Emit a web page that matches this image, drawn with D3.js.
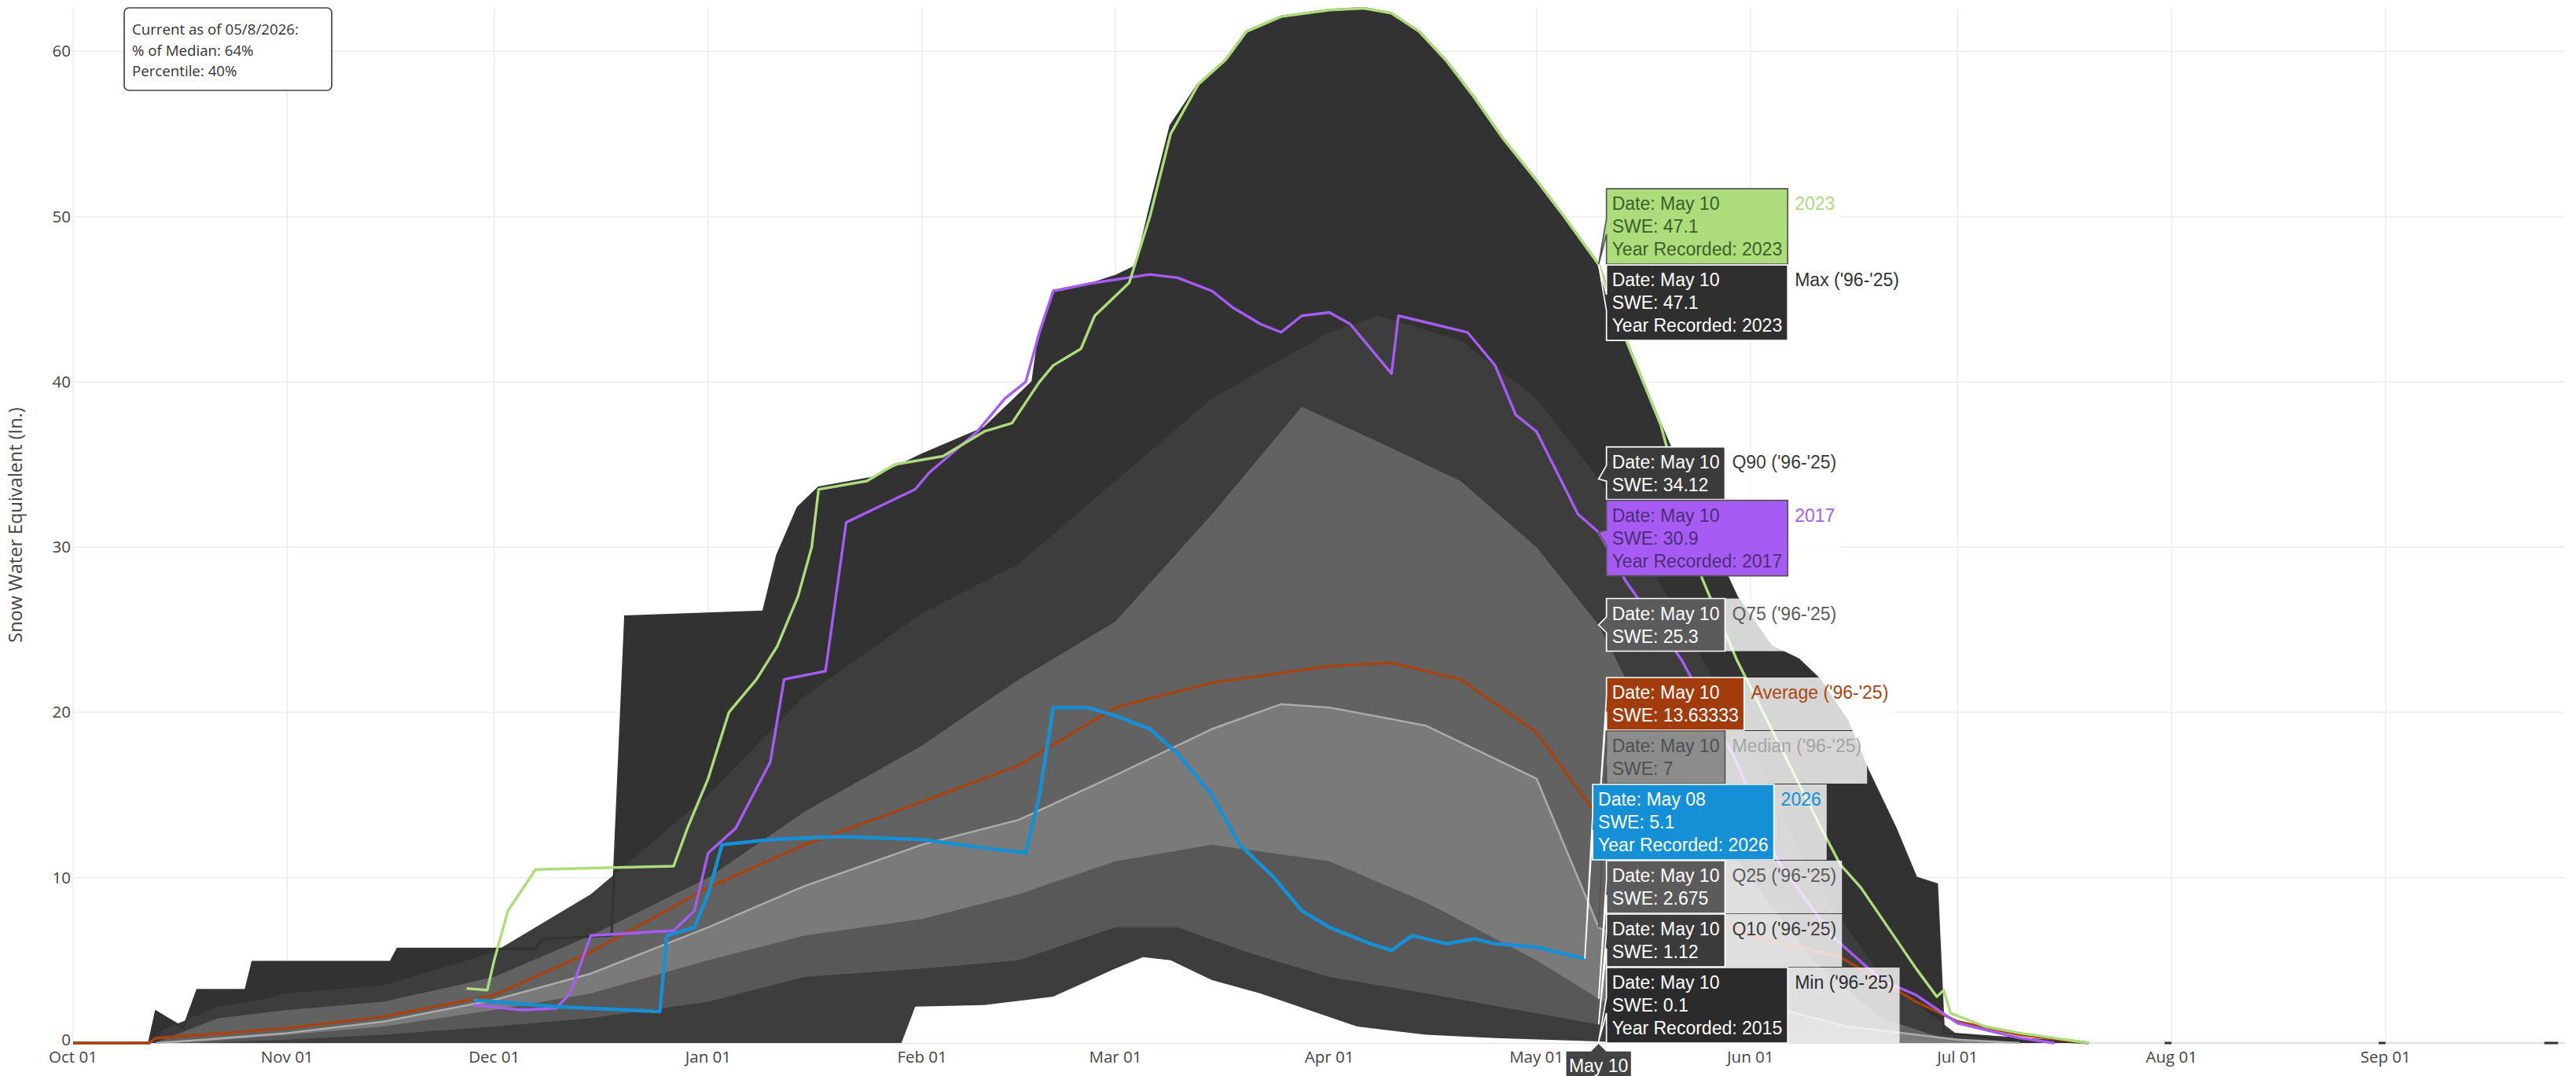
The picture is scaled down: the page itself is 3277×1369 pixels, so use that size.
<!DOCTYPE html>
<html><head><meta charset="utf-8">
<script src="https://cdn.jsdelivr.net/npm/d3@7"></script>
<style>html,body{margin:0;padding:0;background:#fff}svg{display:block}</style>
</head><body>
<svg id="chart" width="3277" height="1369"></svg>
<script>
// ---------------- DATA ----------------
const xTickDates  = ["10-01","11-01","12-01","01-01","02-01","03-01","04-01","05-01","06-01","07-01","08-01","09-01"];
const xTickLabels = ["Oct 01","Nov 01","Dec 01","Jan 01","Feb 01","Mar 01","Apr 01","May 01","Jun 01","Jul 01","Aug 01","Sep 01"];
const yTicks = [0,10,20,30,40,50,60];

const maxSWE = [["10-01",0],["10-12",0],["10-13",1.9],["10-17",0.9],["10-19",3.2],["10-26",3.2],["10-27",4.9],["11-16",4.9],["11-17",5.7],["12-07",5.7],["12-08",6.3],["12-18",6.5],["12-20",25.8],["01-09",26.1],["01-11",29.5],["01-14",32.4],["01-17",33.6],["01-25",34.2],["02-01",35.6],["02-10",37.2],["02-17",40],["02-18",43],["02-20",45.5],["02-26",46],["03-01",46.4],["03-04",47],["03-06",50.5],["03-09",55.5],["03-13",58],["03-17",59.5],["03-20",61.2],["03-25",62.1],["04-01",62.5],["04-06",62.6],["04-10",62.3],["04-14",61.2],["04-18",59.4],["04-22",57.2],["04-26",54.8],["05-01",52.2],["05-05",50],["05-10",47.1],["05-14",42.5],["05-19",37.4],["05-25",31.5],["05-30",27],["06-04",24],["06-08",23.2],["06-11",22],["06-15",19.5],["06-18",16.5],["06-22",13],["06-25",10],["06-28",9.6],["06-29",0.6],["07-05",0.4],["07-12",0.2],["07-20",0],["07-21",null],["07-31",0],["08-01",0],["08-02",null],["08-31",0],["09-01",0],["09-02",null],["09-24",0],["09-26",0]];
const q90SWE = [["10-13",0],["10-14",0.8],["10-22",2.2],["10-28",2.6],["11-01",3],["11-15",3.5],["12-01",5.5],["12-15",9],["01-01",15],["01-15",21],["02-01",26],["02-15",29],["03-01",34],["03-15",39],["04-01",43],["04-08",44],["04-20",42.5],["05-01",39],["05-10",34.12],["05-20",27],["06-01",18],["06-10",10],["06-20",4],["07-01",0.5],["07-10",0]];
const q75SWE = [["10-13",0],["10-14",0.2],["10-22",1.5],["11-01",2],["11-15",2.5],["12-01",4],["12-15",6.5],["01-01",10],["01-15",14],["02-01",18],["02-15",22],["03-01",25.5],["03-15",32],["03-28",38.5],["04-10",36],["04-20",34],["05-01",30],["05-10",25.3],["05-20",17],["06-01",10],["06-10",5],["06-20",1.5],["07-01",0]];
const medianSWE = [["10-13",0],["10-20",0.2],["11-01",0.6],["11-15",1.3],["12-01",2.6],["12-15",4.2],["01-01",7],["01-15",9.5],["02-01",12],["02-15",13.5],["03-01",16.2],["03-15",19],["03-25",20.5],["04-01",20.3],["04-15",19.2],["05-01",16],["05-05",12],["05-10",7],["05-20",4.5],["06-01",2.5],["06-15",1],["07-01",0.2],["07-10",0]];
const q25SWE = [["10-13",0],["10-20",0.1],["11-01",0.5],["11-15",1],["12-01",2],["12-15",3],["01-01",5],["01-15",6.5],["02-01",7.5],["02-15",9],["03-01",11],["03-15",12],["04-01",11],["04-15",8.5],["05-01",5],["05-10",2.675],["05-20",0.8],["06-01",0]];
const q10SWE = [["10-13",0],["10-20",0],["11-01",0.2],["11-15",0.5],["12-01",1],["12-15",1.5],["01-01",2.5],["01-15",4],["02-01",4.5],["02-15",5],["03-01",7],["03-10",7],["03-20",5.5],["04-01",4],["04-15",3],["05-01",1.8],["05-10",1.12],["05-20",0.3],["05-31",0]];
const minSWE = [["10-01",0],["01-29",0],["01-31",2.2],["02-10",2.3],["02-20",2.8],["03-01",4.5],["03-05",5.2],["03-09",5],["03-15",3.8],["03-22",3],["03-29",2],["04-05",1],["04-15",0.5],["04-25",0.3],["05-10",0.1],["05-15",0]];
const avgSWE = [["10-01",0],["10-12",0],["10-13",0.3],["10-20",0.5],["11-01",0.9],["11-15",1.6],["12-01",2.9],["12-15",5.5],["01-01",9.4],["01-15",12],["02-01",14.6],["02-15",16.8],["03-01",20.3],["03-15",21.8],["04-01",22.8],["04-10",23],["04-20",22],["05-01",18.8],["05-10",13.63],["05-20",9.5],["06-01",6.5],["06-14",5.2],["06-25",2.5],["07-01",1.3],["07-10",0.5],["07-20",0]];
const swe2017 = [["11-28",2.3],["12-05",2.0],["12-10",2.1],["12-12",3.0],["12-15",6.5],["12-27",6.8],["12-30",8],["01-01",11.5],["01-05",13],["01-10",17],["01-12",22],["01-18",22.5],["01-21",31.5],["01-26",32.5],["01-31",33.5],["02-02",34.5],["02-09",37],["02-13",39],["02-16",40],["02-18",43],["02-20",45.5],["02-26",46],["03-06",46.5],["03-10",46.3],["03-15",45.5],["03-18",44.5],["03-22",43.5],["03-25",43],["03-28",44],["04-01",44.2],["04-04",43.5],["04-08",41.5],["04-10",40.5],["04-11",44],["04-16",43.5],["04-21",43],["04-25",41],["04-28",38],["05-01",37],["05-07",32],["05-10",30.9],["05-14",27.9],["05-22",23.2],["05-30",17],["06-05",11],["06-13",6.4],["06-20",3.8],["06-25",2.9],["07-01",1.2],["07-10",0.3],["07-15",0]];
const swe2023 = [["11-27",3.3],["11-30",3.2],["12-01",5],["12-03",8],["12-07",10.5],["12-27",10.7],["12-29",13],["01-01",16],["01-04",20],["01-08",22],["01-11",24],["01-14",27],["01-16",30],["01-17",33.5],["01-24",34],["01-28",35],["02-04",35.5],["02-10",37],["02-14",37.5],["02-18",40],["02-20",41],["02-24",42],["02-26",44],["03-03",46],["03-06",50],["03-09",55],["03-13",58],["03-17",59.5],["03-20",61.2],["03-25",62.1],["04-01",62.5],["04-06",62.6],["04-10",62.3],["04-14",61.2],["04-18",59.4],["04-22",57.2],["04-26",54.8],["05-01",52.2],["05-05",50],["05-10",47.1],["05-14",42.5],["05-19",37.4],["05-25",28.1],["05-30",23.2],["06-11",13.2],["06-14",10.8],["06-17",9.4],["06-25",4.5],["06-28",2.8],["06-29",3.2],["06-30",1.8],["07-05",1],["07-10",0.6],["07-15",0.3],["07-20",0]];
const swe2026 = [["11-28",2.6],["12-01",2.5],["12-10",2.2],["12-20",2.0],["12-25",1.9],["12-26",6.5],["12-30",7],["01-01",9],["01-03",12],["01-10",12.3],["01-20",12.5],["02-01",12.3],["02-10",11.8],["02-16",11.5],["02-18",15],["02-20",20.3],["02-25",20.3],["03-01",19.8],["03-06",19],["03-10",17.5],["03-15",15],["03-19",12],["03-24",10],["03-28",8],["04-01",7],["04-07",6],["04-10",5.6],["04-13",6.5],["04-18",6],["04-22",6.3],["04-25",6],["05-01",5.8],["05-05",5.4],["05-08",5.1]];

// hover readout (name, date, SWE, year recorded)
const hoverNames  = ["2023","Max ('96-'25)","Q90 ('96-'25)","2017","Q75 ('96-'25)","Average ('96-'25)","Median ('96-'25)","2026","Q25 ('96-'25)","Q10 ('96-'25)","Min ('96-'25)"];
const hoverDates  = ["05-10","05-10","05-10","05-10","05-10","05-10","05-10","05-08","05-10","05-10","05-10"];
const hoverLabelsDate = ["May 10","May 10","May 10","May 10","May 10","May 10","May 10","May 08","May 10","May 10","May 10"];
const hoverSWE    = [47.1,47.1,34.12,30.9,25.3,13.63333,7,5.1,2.675,1.12,0.1];
const hoverYear   = [2023,2023,null,2017,null,null,null,2026,null,null,2015];
const annotationLines = ["Current as of 05/8/2026:","% of Median: 64%","Percentile: 40%"];

// ---------------- STYLE ----------------
const traceStyle = {
  "2023":            {bg:"#acdc7b", fg:"#3d5f2a", border:"#555", name:"#acdc7b"},
  "Max ('96-'25)":   {bg:"#2f2f2f", fg:"#fff", border:"#fff", name:"#333"},
  "Q90 ('96-'25)":   {bg:"#3b3b3b", fg:"#fff", border:"#fff", name:"#3b3b3b"},
  "2017":            {bg:"#a65cf2", fg:"#4e2c78", border:"#555", name:"#a65cf2"},
  "Q75 ('96-'25)":   {bg:"#5b5b5b", fg:"#fff", border:"#fff", name:"#5b5b5b"},
  "Average ('96-'25)":{bg:"#a23c0c", fg:"#fff", border:"#fff", name:"#a8470f"},
  "Median ('96-'25)":{bg:"#8c8c8c", fg:"#505050", border:"#555", name:"#a5a5a5"},
  "2026":            {bg:"#1590d6", fg:"#fff", border:"#fff", name:"#1590d6"},
  "Q25 ('96-'25)":   {bg:"#5b5b5b", fg:"#fff", border:"#fff", name:"#5b5b5b"},
  "Q10 ('96-'25)":   {bg:"#3b3b3b", fg:"#fff", border:"#fff", name:"#3b3b3b"},
  "Min ('96-'25)":   {bg:"#2b2b2b", fg:"#fff", border:"#fff", name:"#2b2b2b"}
};

// ---------------- SCALES ----------------
const svg = d3.select("#chart");
const PL = 93, PR = 3263, PT = 10, PB = 1327;
const parseD = s => { const [m,d] = s.split("-").map(Number); return new Date(Date.UTC(m >= 10 ? 2025 : 2026, m-1, d)); };
const x = d3.scaleUtc().domain([parseD("10-01"), parseD("09-27")]).range([PL, PR]);
const y = d3.scaleLinear().domain([0, 62.63]).range([PB, PT]);

svg.append("defs").append("clipPath").attr("id","plotclip").append("rect")
  .attr("x",PL).attr("y",PT-2).attr("width",PR-PL).attr("height",PB-PT+4);

// grid
const grid = svg.append("g");
grid.selectAll("line.v").data(xTickDates).join("line")
  .attr("x1",d=>x(parseD(d))).attr("x2",d=>x(parseD(d))).attr("y1",PT).attr("y2",PB)
  .attr("stroke","#eeeeee").attr("stroke-width",1.7);
grid.selectAll("line.h").data(yTicks.filter(v=>v>0)).join("line")
  .attr("x1",PL).attr("x2",PR).attr("y1",d=>y(d)).attr("y2",d=>y(d))
  .attr("stroke","#eeeeee").attr("stroke-width",1.7);
grid.append("line").attr("x1",PL).attr("x2",PR).attr("y1",y(0)).attr("y2",y(0))
  .attr("stroke","#e2e2e2").attr("stroke-width",2.5);

const plot = svg.append("g").attr("clip-path","url(#plotclip)");
const def = d => d[1] != null;
const area = d3.area().defined(def).x(d=>x(parseD(d[0]))).y0(y(0)).y1(d=>y(d[1]));
const line = d3.line().defined(def).x(d=>x(parseD(d[0]))).y(d=>y(d[1]));

// bands painted from the outside in (each band takes the colour of its upper trace)
const bands = [[maxSWE,"#323232"],[q90SWE,"#3d3d3d"],[q75SWE,"#626262"],[medianSWE,"#7a7a7a"],[q25SWE,"#585858"],[q10SWE,"#3d3d3d"],[minSWE,"#ffffff"]];
bands.forEach(([s,c]) => plot.append("path").attr("d",area(s)).attr("fill",c));
plot.append("path").attr("d",line(maxSWE)).attr("fill","none").attr("stroke","#333").attr("stroke-width",3);

const lines = [[medianSWE,"#ababab",2.5],[avgSWE,"#a8420e",3.4],[swe2017,"#a65cf2",3.4],[swe2023,"#acdc7b",3.4],[swe2026,"#1590d6",4.5]];
lines.forEach(([s,c,w]) => plot.append("path").attr("d",line(s)).attr("fill","none")
  .attr("stroke",c).attr("stroke-width",w).attr("stroke-linejoin","round"));

// ---------------- AXES TEXT ----------------
const tickFont = "'Open Sans', sans-serif";
svg.append("g").selectAll("text").data(xTickDates).join("text")
  .attr("x",d=>x(parseD(d))).attr("y",1352).attr("text-anchor","middle")
  .attr("font-family",tickFont).attr("font-size",20.5).attr("fill","#444")
  .text((d,i)=>xTickLabels[i]);
svg.append("g").selectAll("text").data(yTicks).join("text")
  .attr("x",90).attr("y",d=>y(d)+(d===0?3:7)).attr("text-anchor","end")
  .attr("font-family",tickFont).attr("font-size",20.5).attr("fill","#444")
  .text(d=>d);
svg.append("text").attr("transform","translate(28,668) rotate(-90)").attr("text-anchor","middle")
  .attr("font-family",tickFont).attr("font-size",23.5).attr("fill","#444")
  .text("Snow Water Equivalent (In.)");

// annotation
const ann = svg.append("g");
ann.append("rect").attr("x",158).attr("y",10).attr("width",264).attr("height",105).attr("rx",6)
  .attr("fill","#fff").attr("stroke","#444").attr("stroke-width",1.7);
ann.selectAll("text").data(annotationLines).join("text")
  .attr("x",168).attr("y",(d,i)=>44+i*26.5).attr("font-family",tickFont).attr("font-size",18.7).attr("fill","#333")
  .text(d=>d);

// ---------------- HOVER LABELS ----------------
const HF = 23, LH = 29, PADV = 4.5, PADH = 7, ARROW = 10;
const hoverFont = "'Liberation Sans', Arial, sans-serif";
const measurer = svg.append("text").attr("font-family",hoverFont).attr("font-size",HF).attr("visibility","hidden");
const textW = s => { measurer.text(s); return measurer.node().getComputedTextLength(); };

const items = hoverNames.map((n,i) => {
  const ls = ["Date: " + hoverLabelsDate[i], "SWE: " + hoverSWE[i]];
  if (hoverYear[i] != null) ls.push("Year Recorded: " + hoverYear[i]);
  return {name:n, lines:ls, tipX:x(parseD(hoverDates[i])), tipY:y(hoverSWE[i]),
          h: ls.length*LH + 2*PADV, w: d3.max(ls, textW) + 2*PADH, nameW: textW(n), order:i};
});
// plotly-like vertical de-overlap
const GAP = 1;
const sorted = items.slice().sort((a,b)=> a.tipY - b.tipY || a.order - b.order);
let groups = sorted.map(it => ({items:[it]}));
function place(g){
  let acc = 0;
  const rel = g.items.map(it => { const c = acc + it.h/2; acc += it.h + GAP; return c; });
  const total = acc - GAP;
  let t = d3.mean(g.items, (it,k) => it.tipY - rel[k]);
  t = Math.max(PT, Math.min(PB - total, t));
  g.top = t; g.bottom = t + total;
  g.items.forEach((it,k) => it.cy = t + rel[k]);
}
groups.forEach(place);
let changed = true;
while (changed) {
  changed = false;
  for (let k = 0; k < groups.length-1; k++) {
    if (groups[k].bottom > groups[k+1].top) {
      groups[k].items = groups[k].items.concat(groups[k+1].items);
      groups.splice(k+1,1); place(groups[k]); changed = true; break;
    }
  }
}
measurer.remove();

const hov = svg.append("g");
items.forEach(it => {
  const st = traceStyle[it.name];
  const g = hov.append("g").attr("transform",`translate(${it.tipX},${it.tipY})`);
  const off = it.cy - it.tipY, w = it.w, h = it.h;
  g.append("rect").attr("x",ARROW + w).attr("y",off - h/2).attr("width",it.nameW + 2*PADH + 2).attr("height",h)
    .attr("fill","#fff").attr("fill-opacity",0.8);
  g.append("path")
    .attr("d",`M0,0L${ARROW},${ARROW+off}v${h/2-ARROW}h${w}v${-h}H${ARROW}V${off-ARROW}Z`)
    .attr("fill",st.bg).attr("stroke",st.border).attr("stroke-width",1.7);
  it.lines.forEach((s,k) => g.append("text")
    .attr("x",ARROW + PADH).attr("y",off - h/2 + PADV + LH*k + LH/2 + HF*0.35)
    .attr("font-family",hoverFont).attr("font-size",HF).attr("fill",st.fg).text(s));
  g.append("text").attr("x",ARROW + w + PADH + 2).attr("y",off - h/2 + PADV + LH/2 + HF*0.35)
    .attr("font-family",hoverFont).attr("font-size",HF).attr("fill",st.name).text(it.name);
});

// x-axis hover label
(function(){
  const px = x(parseD("05-10")), py = y(0);
  const txt = "May 10", w = 84, h = LH + 2*PADV;
  const g = svg.append("g").attr("transform",`translate(${px},${py})`);
  g.append("path").attr("d",`M0,0L${ARROW},${ARROW}H${w/2}v${h}H${-w/2}V${ARROW}H${-ARROW}Z`)
    .attr("fill","#444").attr("stroke","#fff").attr("stroke-width",1.7);
  g.append("text").attr("x",0).attr("y",ARROW + PADV + LH/2 + HF*0.35).attr("text-anchor","middle")
    .attr("font-family",hoverFont).attr("font-size",HF).attr("fill","#fff").text(txt);
})();
</script>
</body></html>
